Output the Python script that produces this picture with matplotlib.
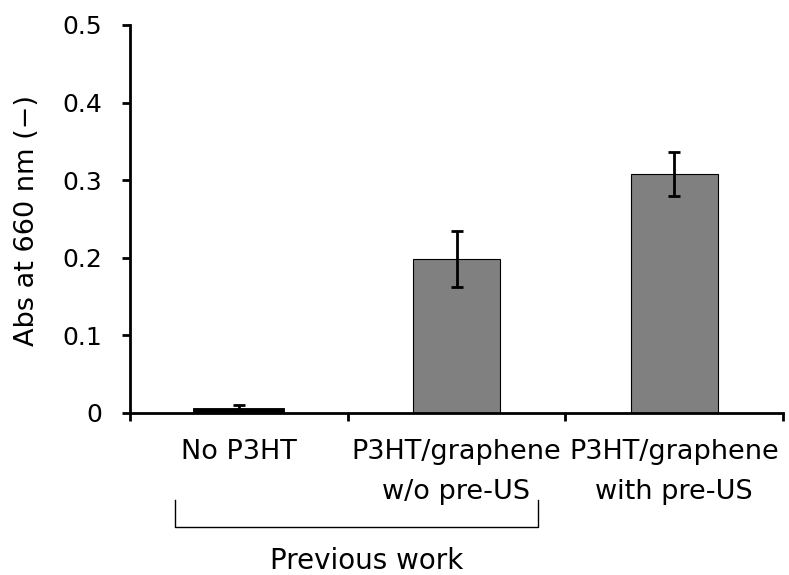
import matplotlib
matplotlib.use("Agg")
import matplotlib.pyplot as plt
import matplotlib.transforms as mtransforms
import numpy as np

# data
categories = ["No P3HT", "P3HT/graphene\nw/o pre-US", "P3HT/graphene\nwith pre-US"]
abs_values = [0.004, 0.199, 0.308]
abs_errors = [0.006, 0.036, 0.028]
y_ticks = [0, 0.1, 0.2, 0.3, 0.4, 0.5]
y_tick_labels = ["0", "0.1", "0.2", "0.3", "0.4", "0.5"]

plt.rcParams['font.family'] = ['DejaVu Sans']

fig = plt.figure(figsize=(7.89, 5.75), dpi=100)
ax = fig.add_axes([130 / 789, 1 - 413 / 575, 653 / 789, 388 / 575])

x = np.arange(len(categories))
ax.bar(x, abs_values, width=0.4, color="#808080", edgecolor="black", linewidth=[3.5, 0.8, 0.8],
       yerr=abs_errors, capsize=4.5, error_kw=dict(elinewidth=2, capthick=2, ecolor="black"))

ax.set_xlim(-0.5, len(categories) - 0.5)
ax.set_ylim(0, 0.5)
ax.set_yticks(y_ticks)
ax.set_yticklabels(y_tick_labels)

# category labels, boundary ticks
ax.set_xticks(x)
ax.set_xticklabels(categories, linespacing=1.7)
ax.set_xticks(np.arange(len(categories) + 1) - 0.5, minor=True)
ax.tick_params(axis="x", which="major", length=0, pad=19, labelsize=19.5)
ax.tick_params(axis="x", which="minor", length=6, width=2, direction="out")
ax.tick_params(axis="y", length=6, width=2, direction="out", pad=14, labelsize=18)

for side in ["top", "right"]:
    ax.spines[side].set_visible(False)
for side in ["left", "bottom"]:
    ax.spines[side].set_linewidth(2)

fig.text(27 / 789, 1 - 220 / 575, "Abs at 660 nm (\u2212)", rotation=90,
         ha="center", va="center", fontsize=19.5)

# bracket for "Previous work"
trans = mtransforms.blended_transform_factory(ax.transData, fig.transFigure)
bx0, bx1 = -0.293, 1.374
by_top, by_bot = 1 - 500 / 575, 1 - 527 / 575
ax.plot([bx0, bx0, bx1, bx1], [by_top, by_bot, by_bot, by_top], color="black",
        linewidth=1, transform=trans, clip_on=False)
fig.text(367 / 789, 1 - 561 / 575, "Previous work", ha="center", va="center", fontsize=20)

fig.savefig("out.png", dpi=100)
